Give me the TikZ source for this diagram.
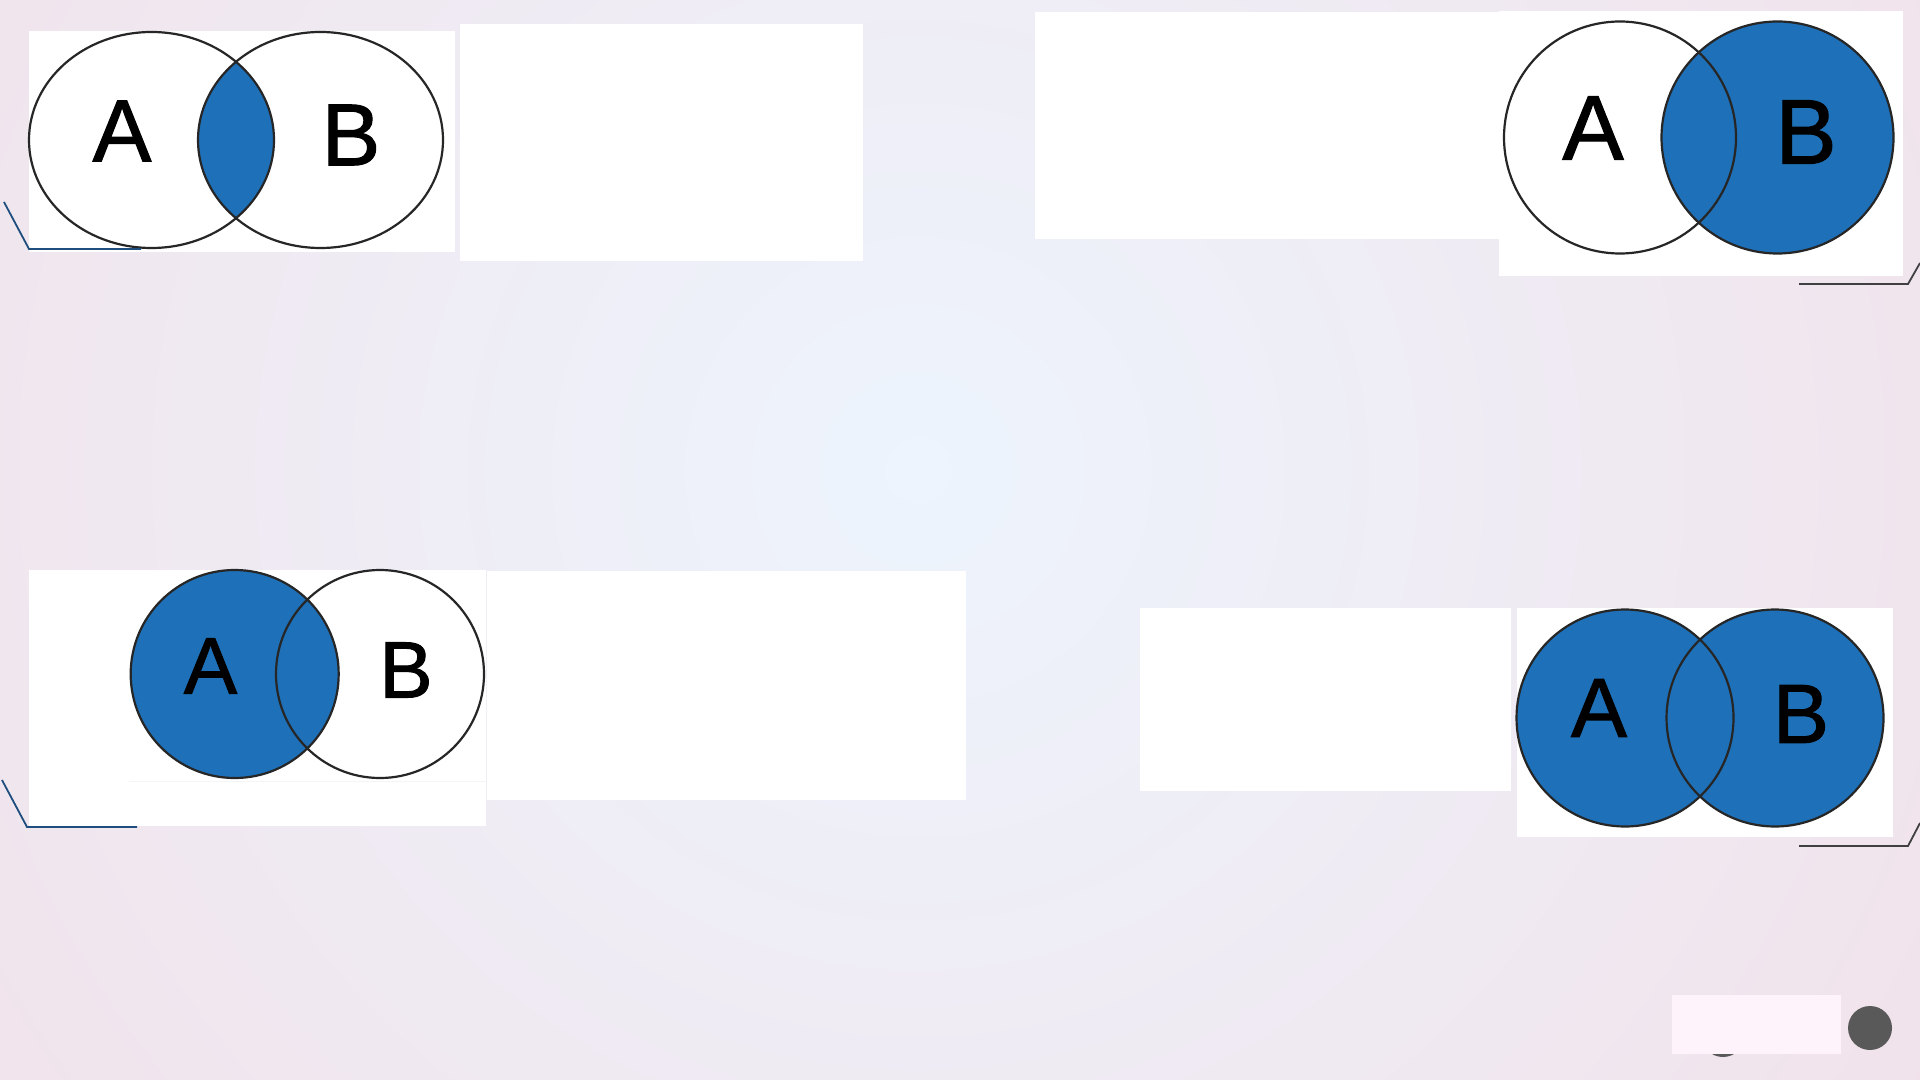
\documentclass[tikz,border=0pt]{standalone}
\usepackage{fontspec}
\setmainfont{Liberation Sans}
\newfontfamily\setfont[FakeBold=1.2]{Liberation Sans}
\definecolor{setblue}{HTML}{1E70B8}
\definecolor{bgpink}{HTML}{F1E2EA}
\definecolor{bgblue}{HTML}{EDF4FD}
\definecolor{cornerblue}{HTML}{1F4E7E}
\definecolor{cornergray}{HTML}{404040}
\definecolor{notepink}{HTML}{FFF3FB}
\tikzset{
  setline/.style={draw=black!85,line width=1.1pt},
  setlabel/.style={font=\setfont\fontsize{#1}{#1}\selectfont,inner sep=0pt},
  setlabel/.default=44,
  corner/.style={line width=0.9pt}
}
\begin{document}
\begin{tikzpicture}[x=0.5pt,y=-0.5pt]
\useasboundingbox (0,0) rectangle (1920,1080);
\fill[bgpink] (0,0) rectangle (1920,1080);
\begin{scope}
\clip (0,0) rectangle (1920,1080);
\shade[inner color=bgblue,outer color=bgpink] (918,470) circle (1200);
\end{scope}
% A intersect B
\fill[white] (29,31) rectangle (455,252); \fill[white] (460,24) rectangle (863,261);
\begin{scope}
\clip (151.5,140) ellipse [x radius=122.5,y radius=108];
\fill[setblue] (320.5,140) ellipse [x radius=122.5,y radius=108];
\end{scope}
\draw[setline] (151.5,140) ellipse [x radius=122.5,y radius=108];
\draw[setline] (320.5,140) ellipse [x radius=122.5,y radius=108];
\node[setlabel=44] (lblA1) at (122,131) {A};
\node[setlabel=44] (lblB1) at (351,135) {B};
\draw[corner,cornerblue] (4,202) -- (29,249) -- (141,249);
% B only
\fill[white] (1035,12) rectangle (1500,239); \fill[white] (1499,11) rectangle (1903,276);
\fill[setblue] (1777.5,137.5) circle (116);
\draw[setline] (1620,137.5) circle (116);
\draw[setline] (1777.5,137.5) circle (116);
\node[setlabel=46] (lblA2) at (1593,128) {A};
\node[setlabel=46] (lblB2) at (1806,132) {B};
\draw[corner,cornergray] (1920,263) -- (1908,284) -- (1799,284);
% A only
\fill[white] (29,570) rectangle (486,826); \fill[white] (487,571) rectangle (966,800);
\fill[setblue] (234.7,674) circle (104);
\draw[setline] (234.7,674) circle (104);
\draw[setline] (380,674) circle (104);
\draw[black!4] (129,781) -- (486,781);
\node[setlabel=40] (lblA3) at (210.5,666) {A};
\node[setlabel=40] (lblB3) at (406,670) {B};
\draw[corner,cornerblue] (2,780) -- (27,827) -- (137,827);
% A union B
\fill[white] (1140,608) rectangle (1511,791); \fill[white] (1517,608) rectangle (1893,837);
\fill[setblue] (1625,718) circle (108.5); \fill[setblue] (1775,718) circle (108.5);
\draw[setline] (1625,718) circle (108.5);
\draw[setline] (1775,718) circle (108.5);
\node[setlabel=42] (lblA4) at (1599,708) {A};
\node[setlabel=42] (lblB4) at (1801,714) {B};
\draw[corner,cornergray] (1920,823) -- (1908,846) -- (1799,846);
% slide footer
\fill[black!65] (1723,1035) circle (22);
\fill[notepink] (1672,995) rectangle (1841,1054);
\fill[black!65] (1870,1028) circle (22);
\end{tikzpicture}
\end{document}
